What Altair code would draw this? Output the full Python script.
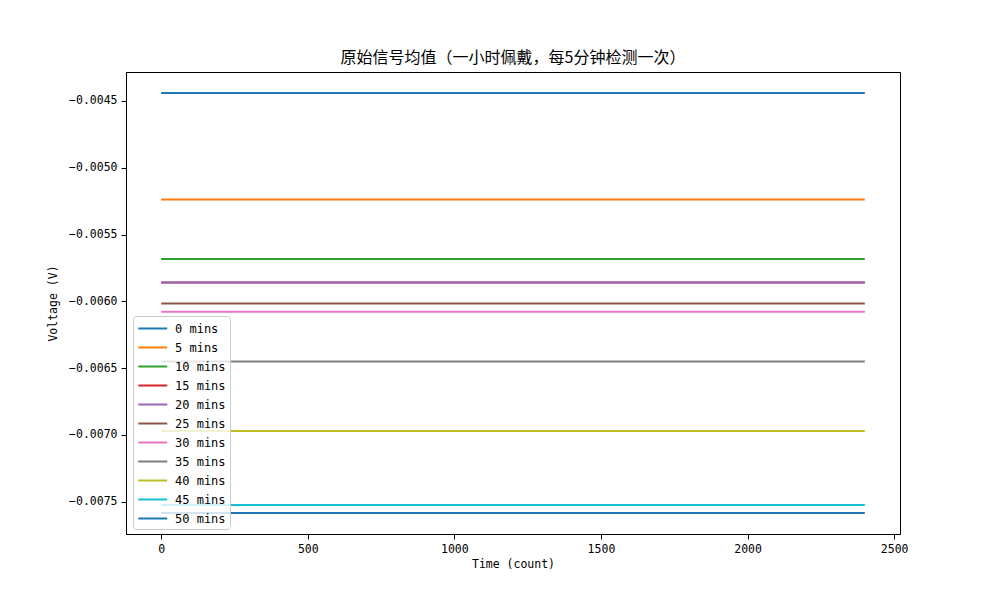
import altair as alt
import pandas as pd

series = ["0 mins", "5 mins", "10 mins", "15 mins", "20 mins", "25 mins",
          "30 mins", "35 mins", "40 mins", "45 mins", "50 mins"]
values = [-0.004440, -0.005237, -0.005684, -0.005859, -0.005859, -0.006016,
          -0.006079, -0.006451, -0.006971, -0.007526, -0.007586]
colors = ["#1f77b4", "#ff7f0e", "#2ca02c", "#d62728", "#9467bd", "#8c564b",
          "#e377c2", "#7f7f7f", "#bcbd22", "#17becf", "#1f77b4"]
x_start = 0
x_end = 2400

rows = []
for i, (s, v) in enumerate(zip(series, values)):
    rows.append({"series": s, "order": i, "t": x_start, "v": v})
    rows.append({"series": s, "order": i, "t": x_end, "v": v})
df = pd.DataFrame(rows)

mono = "DejaVu Sans Mono"

chart = alt.Chart(df).mark_line(strokeWidth=2, clip=True).encode(
    x=alt.X("t:Q", scale=alt.Scale(domain=[-120, 2520], nice=False, zero=False),
            axis=alt.Axis(title="Time (count)", values=[0, 500, 1000, 1500, 2000, 2500],
                          format="d", grid=False)),
    y=alt.Y("v:Q", scale=alt.Scale(domain=[-0.007743, -0.004283], nice=False, zero=False),
            axis=alt.Axis(title="Voltage (V)",
                          values=[-0.0075, -0.0070, -0.0065, -0.0060, -0.0055, -0.0050, -0.0045],
                          format=".4f", grid=False)),
    color=alt.Color("series:N", sort=series,
                    scale=alt.Scale(domain=series, range=colors),
                    legend=alt.Legend(title=None, orient="none", legendX=7, legendY=244,
                                      symbolType="M-1,0L3,0", symbolSize=210, symbolStrokeWidth=2,
                                      labelFont=mono, labelFontSize=12, labelColor="black",
                                      fillColor="rgba(255,255,255,0.8)", strokeColor="#cccccc",
                                      cornerRadius=3, padding=4, rowPadding=4, labelOffset=21)),
    order=alt.Order("order:Q"),
).properties(
    width=774, height=462,
    title=alt.TitleParams("原始信号均值（一小时佩戴，每5分钟检测一次）",
                          font="Noto Sans CJK SC", fontSize=16, fontWeight="normal",
                          color="black", anchor="middle", offset=6),
    autosize=alt.AutoSizeParams(type="none"),
    padding={"left": 126, "top": 72, "right": 100, "bottom": 66},
).configure_view(
    stroke="black", strokeWidth=1
).configure_axis(
    domainColor="black", tickColor="black", tickSize=5, labelColor="black",
    labelFont=mono, labelFontSize=11.5, titleFont=mono, titleFontSize=11.5,
    titleFontWeight="normal", titleColor="black", labelPadding=4
).configure_axisY(titlePadding=10).configure_axisX(titlePadding=4)

chart.save("out.html", embed_options={"renderer": "svg", "actions": False})
